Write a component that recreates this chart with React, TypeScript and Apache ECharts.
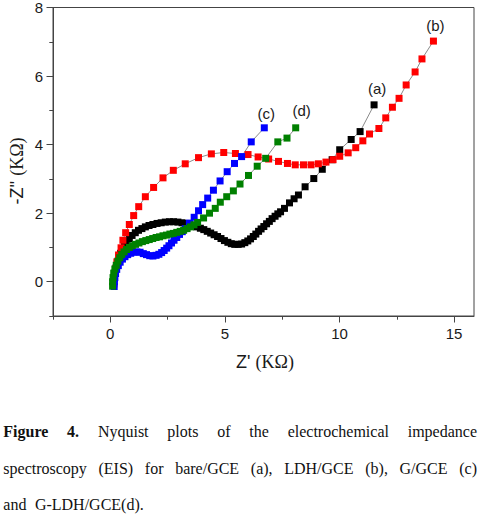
import React, { useEffect, useRef } from "react";
import * as echarts from "echarts";

// ---- Data ----
const seriesNames = ["(a)", "(b)", "(c)", "(d)"];
const seriesColors = ["#000000", "#ff0000", "#0000ff", "#008000"];

const bareGCE: [number, number][] = [
  [0.15, -0.05], [0.17, 0.1], [0.2, 0.25], [0.25, 0.4], [0.31, 0.55], [0.38, 0.7],
  [0.45, 0.83], [0.53, 0.95], [0.62, 1.06], [0.72, 1.16], [0.83, 1.26], [0.95, 1.35],
  [1.09, 1.43], [1.23, 1.5], [1.38, 1.55], [1.53, 1.6], [1.69, 1.64], [1.86, 1.67],
  [2.04, 1.7], [2.22, 1.72], [2.4, 1.74], [2.58, 1.75], [2.76, 1.75], [2.95, 1.74],
  [3.13, 1.72], [3.3, 1.7], [3.47, 1.67], [3.63, 1.64], [3.78, 1.6], [3.93, 1.56],
  [4.08, 1.52], [4.23, 1.47], [4.38, 1.42], [4.53, 1.37], [4.68, 1.32], [4.83, 1.26],
  [4.98, 1.2], [5.13, 1.15], [5.28, 1.11], [5.43, 1.09], [5.58, 1.09], [5.73, 1.1],
  [5.87, 1.14], [6.0, 1.19], [6.12, 1.25], [6.24, 1.32], [6.35, 1.39], [6.47, 1.47],
  [6.58, 1.54], [6.7, 1.61], [6.82, 1.69], [6.94, 1.76], [7.06, 1.84], [7.19, 1.91],
  [7.31, 1.98], [7.43, 2.04], [7.6, 2.14], [7.82, 2.3], [8.02, 2.42], [8.21, 2.53],
  [8.5, 2.77], [8.88, 3.01], [9.25, 3.28], [9.68, 3.56], [10.01, 3.85], [10.51, 4.15],
  [10.9, 4.38], [11.51, 5.16],
];

const ldhGCE: [number, number][] = [
  [0.15, -0.08], [0.18, 0.15], [0.23, 0.37], [0.29, 0.58], [0.36, 0.78], [0.47, 0.99],
  [0.55, 1.21], [0.67, 1.43], [0.83, 1.67], [1.02, 1.93], [1.24, 2.19], [1.53, 2.48],
  [1.89, 2.75], [2.3, 3.03], [2.75, 3.25], [3.27, 3.44], [3.85, 3.62], [4.41, 3.73],
  [4.95, 3.77], [5.46, 3.74], [6.01, 3.71], [6.45, 3.64], [6.91, 3.58], [7.34, 3.51],
  [7.73, 3.45], [8.07, 3.41], [8.43, 3.41], [8.76, 3.41], [9.08, 3.44], [9.41, 3.49],
  [9.72, 3.56], [10.01, 3.66], [10.38, 3.76], [10.71, 3.91], [11.02, 4.11], [11.31, 4.31],
  [11.72, 4.47], [12.02, 4.78], [12.31, 5.09], [12.6, 5.35], [12.91, 5.74], [13.3, 6.12],
  [13.6, 6.5], [14.1, 7.02],
];

const gGCE: [number, number][] = [
  [0.17, -0.14], [0.18, 0.0], [0.2, 0.12], [0.23, 0.24], [0.28, 0.36], [0.35, 0.47],
  [0.43, 0.57], [0.53, 0.66], [0.64, 0.73], [0.76, 0.79], [0.89, 0.83], [1.02, 0.86],
  [1.16, 0.87], [1.3, 0.86], [1.44, 0.82], [1.58, 0.79], [1.72, 0.76], [1.86, 0.75],
  [2.0, 0.77], [2.12, 0.8], [2.24, 0.85], [2.35, 0.91], [2.46, 0.98], [2.56, 1.05],
  [2.67, 1.13], [2.78, 1.21], [2.9, 1.29], [3.02, 1.38], [3.14, 1.46], [3.27, 1.55],
  [3.45, 1.71], [3.66, 1.88], [3.85, 2.07], [4.03, 2.25], [4.25, 2.44], [4.5, 2.67],
  [4.79, 2.94], [5.1, 3.21], [5.42, 3.45], [5.73, 3.65], [6.15, 4.08], [6.72, 4.49],
];

const gLdhGCE: [number, number][] = [
  [0.1, -0.13], [0.1, 0.0], [0.12, 0.12], [0.15, 0.25], [0.2, 0.37], [0.26, 0.48],
  [0.33, 0.6], [0.41, 0.7], [0.5, 0.79], [0.6, 0.87], [0.71, 0.94], [0.83, 1.0],
  [0.96, 1.05], [1.1, 1.09], [1.25, 1.13], [1.4, 1.17], [1.55, 1.2], [1.7, 1.23],
  [1.85, 1.26], [2.0, 1.29], [2.15, 1.31], [2.3, 1.34], [2.45, 1.36], [2.6, 1.39],
  [2.75, 1.41], [2.9, 1.44], [3.05, 1.47], [3.2, 1.5], [3.35, 1.55], [3.5, 1.6],
  [3.65, 1.66], [3.81, 1.73], [4.07, 1.86], [4.33, 2.0], [4.58, 2.14], [4.8, 2.32],
  [5.08, 2.48], [5.37, 2.65], [5.66, 2.85], [6.03, 3.1], [6.41, 3.37], [6.78, 3.6],
  [7.31, 4.08], [7.71, 4.19], [8.09, 4.49],
];

const seriesData = [bareGCE, ldhGCE, gGCE, gLdhGCE];
const labelOffsets: [number, number][] = [[3, 0], [2, 0], [2, 2], [6, -1]];
const drawOrder = [0, 1, 2, 3];

const xMajorTicks = [0, 5, 10, 15];
const xMinorTicks = [-2.5, 2.5, 7.5, 12.5];
const yMajorTicks = [0, 2, 4, 6, 8];
const yMinorTicks = [-1, 1, 3, 5, 7];

const xTitle = { main: "Z' ", unit: "(KΩ)" };
const yTitle = { main: "-Z'' ", unit: "(KΩ)" };

const captionLines: { words: string[]; bold: number; justify: boolean }[] = [
  { words: ["Figure", "4.", "Nyquist", "plots", "of", "the", "electrochemical", "impedance"], bold: 2, justify: true },
  { words: ["spectroscopy", "(EIS)", "for", "bare/GCE", "(a),", "LDH/GCE", "(b),", "G/GCE", "(c)"], bold: 0, justify: true },
  { words: ["and", "G-LDH/GCE(d)."], bold: 0, justify: false },
];

const SANS = "'Liberation Sans', Arial, sans-serif";
const SERIF = "'Liberation Serif', 'Times New Roman', serif";
const AXIS_COLOR = "#444444";
const TEXT_COLOR = "#1a1a1a";

function buildCaption(): any[] {
  const canvas = document.createElement("canvas");
  const ctx = canvas.getContext("2d")!;
  const fontSize = 16;
  const x0 = 3.3;
  const x1 = 477;
  const ys = [431.6, 468.4, 504.6];
  const out: any[] = [];
  captionLines.forEach((line, li) => {
    const widths = line.words.map((w, i) => {
      ctx.font = `${i < line.bold ? "bold " : ""}${fontSize}px 'Liberation Serif'`;
      return ctx.measureText(w).width;
    });
    const total = widths.reduce((a, b) => a + b, 0);
    const gap = line.justify ? (x1 - x0 - total) / (line.words.length - 1) : 8.5;
    let x = x0;
    line.words.forEach((w, i) => {
      out.push({
        type: "text",
        x,
        y: ys[li],
        silent: true,
        style: {
          text: w,
          fontFamily: SERIF,
          fontSize,
          fontWeight: i < line.bold ? "bold" : "normal",
          fill: "#111111",
          textAlign: "left",
          textVerticalAlign: "middle",
        },
      });
      x += widths[i] + gap;
    });
  });
  return out;
}

export default function App() {
  const ref = useRef<HTMLDivElement>(null);

  useEffect(() => {
    if (!ref.current) return;
    const chart = echarts.init(ref.current, null, { renderer: "svg" });

    const xMin = -2.5;
    const xMax = 15.87;
    const yMin = -1;
    const yMax = 8;

    const series = drawOrder.map((idx) => {
      const d = seriesData[idx];
      return {
        name: seriesNames[idx],
        type: "line",
        xAxisIndex: 0,
        yAxisIndex: 0,
        symbol: "rect",
        symbolSize: 7,
        showSymbol: true,
        showAllSymbol: true,
        itemStyle: { color: seriesColors[idx] },
        lineStyle: { color: "#8a8a8a", width: 1 },
        emphasis: { disabled: true },
        data: d.map((p, i) =>
          i === d.length - 1
            ? {
                value: p,
                label: {
                  show: true,
                  formatter: seriesNames[idx],
                  position: "top",
                  distance: 5,
                  offset: labelOffsets[idx],
                  fontFamily: SANS,
                  fontSize: 15,
                  color: TEXT_COLOR,
                },
              }
            : p
        ),
      };
    });

    const axisCommonX = {
      type: "value",
      min: xMin,
      max: xMax,
      splitLine: { show: false },
    };
    const axisCommonY = {
      type: "value",
      min: yMin,
      max: yMax,
      splitLine: { show: false },
    };

    chart.setOption({
      animation: false,
      backgroundColor: "#ffffff",
      grid: {
        left: 53,
        top: 3,
        width: 421,
        height: 313,
        show: true,
        borderColor: AXIS_COLOR,
        borderWidth: 1,
        backgroundColor: "transparent",
      },
      xAxis: [
        {
          ...axisCommonX,
          position: "bottom",
          axisLine: { show: true, onZero: false, lineStyle: { color: AXIS_COLOR, width: 1 } },
          axisTick: { show: true, customValues: xMajorTicks, length: 6.5, lineStyle: { color: AXIS_COLOR } },
          axisLabel: {
            show: true,
            customValues: xMajorTicks,
            margin: 10,
            fontFamily: SANS,
            fontSize: 15,
            color: TEXT_COLOR,
          },
        },
        {
          ...axisCommonX,
          position: "bottom",
          axisLine: { show: false, onZero: false },
          axisTick: { show: true, customValues: xMinorTicks, length: 3.7, lineStyle: { color: AXIS_COLOR } },
          axisLabel: { show: false },
        },
      ],
      yAxis: [
        {
          ...axisCommonY,
          position: "left",
          axisLine: { show: true, onZero: false, lineStyle: { color: AXIS_COLOR, width: 1 } },
          axisTick: { show: true, customValues: yMajorTicks, length: 6.5, lineStyle: { color: AXIS_COLOR } },
          axisLabel: {
            show: true,
            customValues: yMajorTicks,
            margin: 10,
            fontFamily: SANS,
            fontSize: 15,
            color: TEXT_COLOR,
          },
        },
        {
          ...axisCommonY,
          position: "left",
          axisLine: { show: false, onZero: false },
          axisTick: { show: true, customValues: yMinorTicks, length: 3.7, lineStyle: { color: AXIS_COLOR } },
          axisLabel: { show: false },
        },
      ],
      series,
      graphic: [
        {
          type: "text",
          x: 265,
          y: 361.5,
          silent: true,
          style: {
            text: `{a|${xTitle.main}}{b|${xTitle.unit}}`,
            textAlign: "center",
            textVerticalAlign: "middle",
            fill: TEXT_COLOR,
            rich: {
              a: { fontFamily: SANS, fontSize: 18, fill: TEXT_COLOR, color: TEXT_COLOR },
              b: { fontFamily: SERIF, fontSize: 18, fill: TEXT_COLOR, color: TEXT_COLOR },
            },
          },
        },
        {
          type: "text",
          x: 16.5,
          y: 171,
          rotation: Math.PI / 2,
          silent: true,
          style: {
            text: `{a|${yTitle.main}}{b|${yTitle.unit}}`,
            textAlign: "center",
            textVerticalAlign: "middle",
            fill: TEXT_COLOR,
            rich: {
              a: { fontFamily: SANS, fontSize: 18, fill: TEXT_COLOR, color: TEXT_COLOR },
              b: { fontFamily: SERIF, fontSize: 18, fill: TEXT_COLOR, color: TEXT_COLOR },
            },
          },
        },
        ...buildCaption(),
      ],
    });

    return () => {
      chart.dispose();
    };
  }, []);

  return (
    <div
      ref={ref}
      style={{
        position: "absolute",
        left: 0,
        top: 0,
        width: 480,
        height: 532,
        background: "#ffffff",
      }}
    />
  );
}
